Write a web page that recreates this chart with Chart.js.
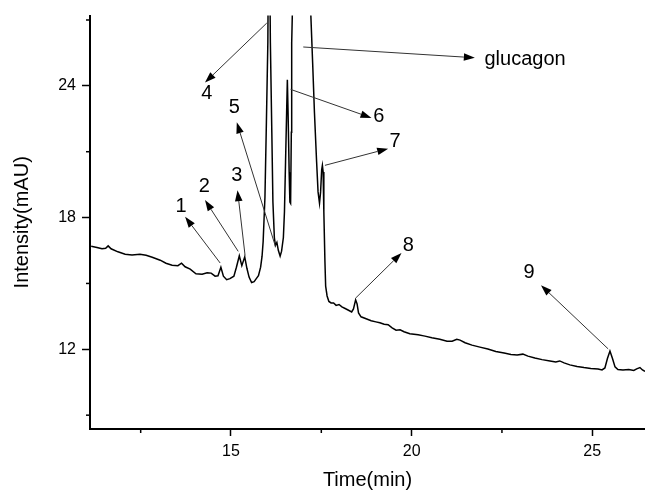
<!DOCTYPE html>
<html>
<head>
<meta charset="utf-8">
<script src="https://cdn.jsdelivr.net/npm/chart.js@4.4.0/dist/chart.umd.min.js"></script>
<style>
    html, body { margin: 0; padding: 0; background: #fff; }
    #chromChart { display: block; }
</style>
</head>
<body>
<canvas id="chromChart" width="645" height="492"></canvas>
<script>
// retention time (min) and detector signal (mAU)
const times = [
    11.13, 11.29, 11.43, 11.53, 11.60, 11.68, 11.87, 12.07, 12.26, 12.48,
    12.65, 12.82, 13.04, 13.20, 13.37, 13.53, 13.63, 13.73, 13.87, 14.03,
    14.20, 14.34, 14.45, 14.56, 14.64, 14.72, 14.79, 14.88, 14.97, 15.08,
    15.15, 15.23, 15.30, 15.38, 15.44, 15.50, 15.57, 15.64, 15.71, 15.76,
    15.82, 15.86, 15.89, 15.94, 15.98, 16.02, 16.05, 16.09, 16.13, 16.16,
    16.20, 16.23, 16.27, 16.31, 16.36, 16.40, 16.45, 16.48, 16.51, 16.54,
    16.56, 16.58, 16.61, 16.63, 16.65, 16.67, 16.68, 16.94, 17.21, 17.26,
    17.31, 17.37, 17.41, 17.45, 17.48, 17.51, 17.53, 17.55, 17.57, 17.60,
    17.62, 17.66, 17.71, 17.77, 17.84, 17.91, 17.99, 18.07, 18.16, 18.24,
    18.34, 18.39, 18.45, 18.49, 18.53, 18.60, 18.74, 18.88, 19.01, 19.12,
    19.24, 19.35, 19.46, 19.57, 19.68, 19.79, 19.95, 20.18, 20.37, 20.56,
    20.78, 20.98, 21.12, 21.25, 21.34, 21.48, 21.67, 21.89, 22.11, 22.33,
    22.56, 22.75, 22.92, 23.08, 23.22, 23.41, 23.61, 23.83, 23.99, 24.10,
    24.22, 24.38, 24.58, 24.77, 24.96, 25.16, 25.27, 25.35, 25.42, 25.49,
    25.56, 25.63, 25.71, 25.85, 26.01, 26.15, 26.23, 26.32, 26.39, 26.46
];
const intensity = [
    16.69, 16.64, 16.58, 16.60, 16.71, 16.58, 16.44, 16.33, 16.30, 16.33,
    16.28, 16.19, 16.06, 15.92, 15.83, 15.81, 15.92, 15.76, 15.65, 15.44,
    15.42, 15.49, 15.47, 15.33, 15.35, 15.74, 15.33, 15.17, 15.22, 15.33,
    15.74, 16.26, 15.81, 16.21, 15.69, 15.29, 15.04, 15.08, 15.24, 15.35,
    15.74, 16.24, 16.91, 18.94, 22.34, 25.96, 34.00, 25.96, 21.89, 18.72,
    17.09, 16.73, 16.87, 16.51, 16.24, 16.47, 17.09, 18.27, 20.53, 22.79,
    24.28, 22.79, 20.07, 18.71, 18.65, 21.89, 25.96, 45.00, 27.22, 25.05,
    22.79, 20.53, 19.17, 18.65, 19.17, 20.17, 20.38, 20.08, 18.27, 16.01,
    14.88, 14.43, 14.18, 14.11, 14.11, 14.00, 14.04, 13.93, 13.86, 13.79,
    13.70, 13.84, 14.25, 14.07, 13.66, 13.48, 13.39, 13.30, 13.25, 13.21,
    13.14, 13.12, 12.98, 12.87, 12.89, 12.80, 12.71, 12.66, 12.60, 12.53,
    12.46, 12.37, 12.37, 12.46, 12.42, 12.30, 12.19, 12.10, 12.01, 11.90,
    11.83, 11.76, 11.74, 11.78, 11.69, 11.60, 11.53, 11.47, 11.42, 11.47,
    11.38, 11.29, 11.22, 11.17, 11.13, 11.10, 11.06, 11.15, 11.58, 11.92,
    11.58, 11.20, 11.08, 11.06, 11.08, 11.04, 11.11, 11.17, 11.06, 10.99
];

// peak annotations: arrow from the peak to the label
const peakNames = ['1', '2', '3', '4', '5', '6', '7', '8', '9', 'glucagon'];
const arrowFromT = [14.70, 15.20, 15.39, 15.99, 16.23, 16.65, 17.60, 18.46, 25.44, 17.00];
const arrowFromI = [15.93, 16.46, 16.27, 26.86, 16.69, 23.84, 20.38, 14.35, 12.02, 25.77];
const arrowToT   = [13.73, 14.28, 15.18, 14.28, 15.16, 18.89, 19.35, 19.72, 23.58, 21.75];
const arrowToI   = [18.04, 18.80, 19.25, 24.15, 22.34, 22.54, 21.14, 16.39, 14.92, 25.28];
const labelT     = [13.62, 14.26, 15.16, 14.33, 15.09, 19.09, 19.54, 19.91, 23.25, 23.14];
const labelI     = [18.49, 19.40, 19.91, 23.66, 23.02, 22.62, 21.47, 16.73, 15.51, 25.21];

const xMinor = [12.5, 17.5, 22.5];
const yMinor = [9, 15, 21, 27];

const FONT = "'Liberation Sans', Arial, sans-serif";

const minorTicks = {
    id: 'minorTicks',
    afterDraw(chart) {
        const ctx = chart.ctx;
        const xs = chart.scales.x, ys = chart.scales.y;
        ctx.save();
        ctx.strokeStyle = '#000';
        ctx.lineWidth = 1.5;
        xMinor.forEach(v => {
            const px = xs.getPixelForValue(v);
            ctx.beginPath();
            ctx.moveTo(px, ys.bottom);
            ctx.lineTo(px, ys.bottom + 4);
            ctx.stroke();
        });
        yMinor.forEach(v => {
            const py = ys.getPixelForValue(v);
            ctx.beginPath();
            ctx.moveTo(xs.left, py);
            ctx.lineTo(xs.left - 4, py);
            ctx.stroke();
        });
        ctx.restore();
    }
};

const peakArrows = {
    id: 'peakArrows',
    afterDatasetsDraw(chart) {
        const ctx = chart.ctx;
        const xs = chart.scales.x, ys = chart.scales.y;
        ctx.save();
        peakNames.forEach((name, i) => {
            const x0 = xs.getPixelForValue(arrowFromT[i]), y0 = ys.getPixelForValue(arrowFromI[i]);
            const x1 = xs.getPixelForValue(arrowToT[i]), y1 = ys.getPixelForValue(arrowToI[i]);
            const ang = Math.atan2(y1 - y0, x1 - x0);
            const head = 11, half = 3.8;
            ctx.strokeStyle = '#333';
            ctx.lineWidth = 1;
            ctx.beginPath();
            ctx.moveTo(x0, y0);
            ctx.lineTo(x1 - head * Math.cos(ang), y1 - head * Math.sin(ang));
            ctx.stroke();
            ctx.fillStyle = '#000';
            ctx.beginPath();
            ctx.moveTo(x1, y1);
            ctx.lineTo(x1 - head * Math.cos(ang) + half * Math.sin(ang), y1 - head * Math.sin(ang) - half * Math.cos(ang));
            ctx.lineTo(x1 - head * Math.cos(ang) - half * Math.sin(ang), y1 - head * Math.sin(ang) + half * Math.cos(ang));
            ctx.closePath();
            ctx.fill();
            ctx.font = '20px ' + FONT;
            ctx.textAlign = 'center';
            ctx.textBaseline = 'middle';
            ctx.fillText(name, xs.getPixelForValue(labelT[i]), ys.getPixelForValue(labelI[i]));
        });
        ctx.restore();
    }
};

document.addEventListener("DOMContentLoaded", function() {
    const ctx = document.getElementById("chromChart").getContext("2d");
    new Chart(ctx, {
        type: 'line',
        data: {
            datasets: [{
                label: 'Signal',
                data: times.map((t, i) => ({ x: t, y: intensity[i] })),
                borderColor: '#000',
                borderWidth: 1.5,
                pointRadius: 0,
                tension: 0,
                fill: false,
                clip: 0
            }]
        },
        options: {
            responsive: false,
            animation: false,
            layout: { padding: { top: 13, left: 0, right: 0, bottom: 0 } },
            plugins: {
                legend: { display: false },
                tooltip: { enabled: false }
            },
            scales: {
                x: {
                    type: 'linear',
                    min: 11.097,
                    max: 26.46,
                    afterFit: scale => { scale.height = 63; },
                    ticks: {
                        stepSize: 5,
                        includeBounds: false,
                        padding: 6,
                        color: '#000',
                        font: { family: FONT, size: 16 }
                    },
                    grid: { drawOnChartArea: false, drawTicks: true, tickLength: 7, tickWidth: 1.5, tickColor: '#000' },
                    border: { display: true, color: '#000', width: 2 },
                    title: {
                        display: true,
                        text: 'Time(min)',
                        color: '#000',
                        font: { family: FONT, size: 20 },
                        padding: { top: 0, bottom: 0 }
                    }
                },
                y: {
                    min: 8.37,
                    max: 27.2,
                    afterFit: scale => { scale.width = 90; },
                    ticks: {
                        stepSize: 6,
                        includeBounds: false,
                        padding: 6,
                        color: '#000',
                        font: { family: FONT, size: 16 }
                    },
                    grid: { drawOnChartArea: false, drawTicks: true, tickLength: 8, tickWidth: 1.5, tickColor: '#000' },
                    border: { display: true, color: '#000', width: 2 },
                    title: {
                        display: true,
                        text: 'Intensity(mAU)',
                        color: '#000',
                        font: { family: FONT, size: 20 },
                        padding: { top: 10, bottom: 0 }
                    }
                }
            }
        },
        plugins: [minorTicks, peakArrows]
    });
});
</script>
</body>
</html>
